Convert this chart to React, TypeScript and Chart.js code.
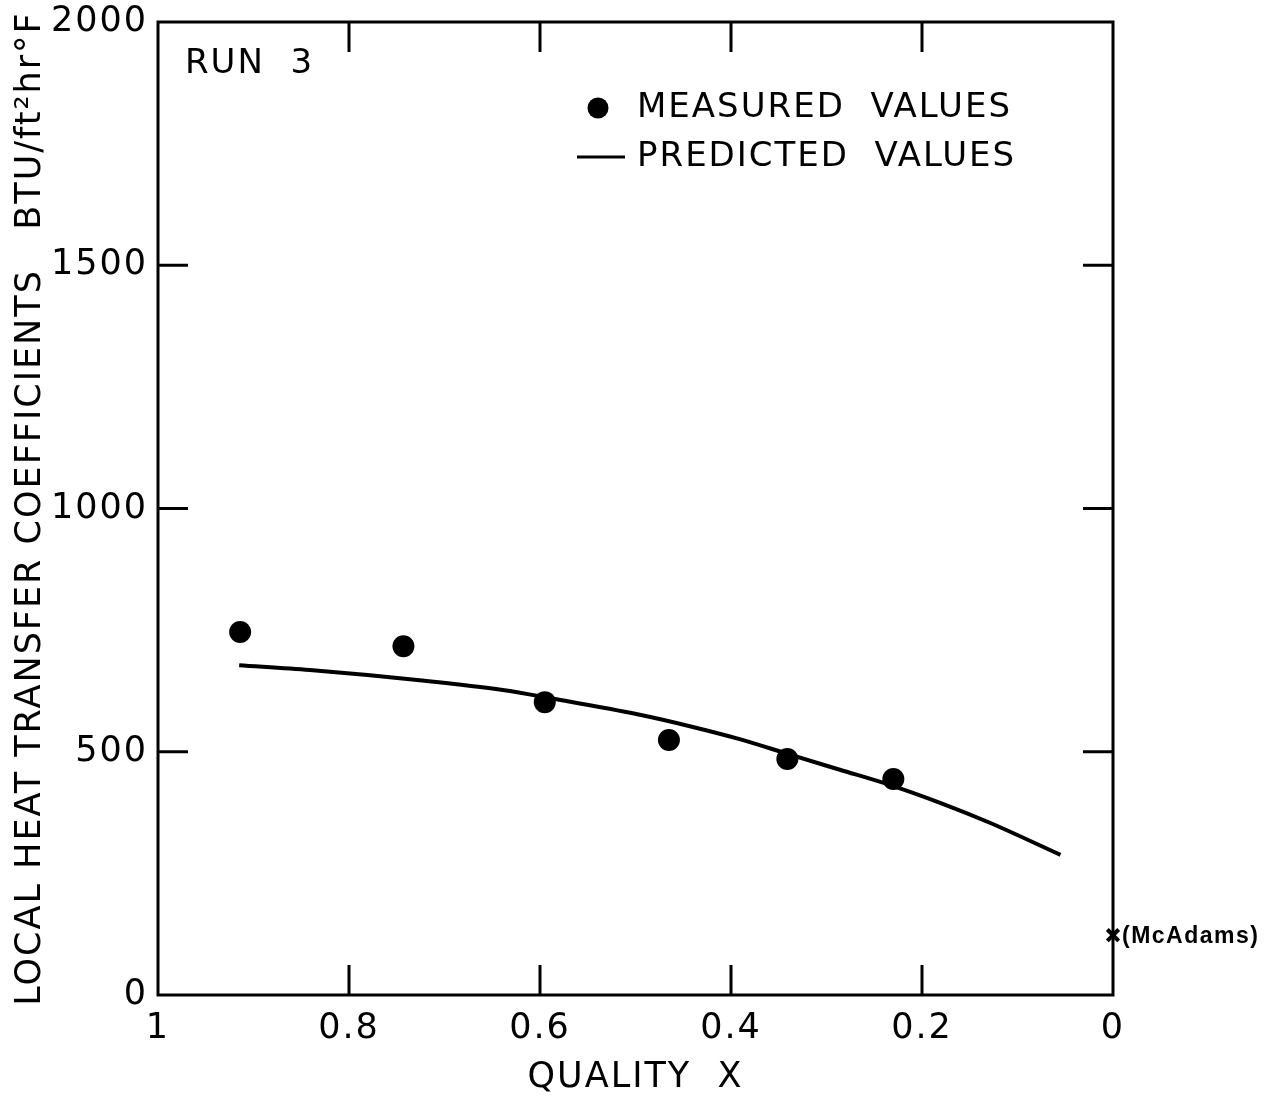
import React, { useEffect, useRef } from 'react';
import { Chart, registerables } from 'chart.js';

Chart.register(...registerables);

// ---- data ----
const measuredX = [0.914, 0.743, 0.595, 0.465, 0.341, 0.23];
const measuredY = [746, 717, 602, 524, 485, 444];
const predictedX = [0.915, 0.841, 0.726, 0.639, 0.586, 0.498, 0.44, 0.391, 0.338, 0.286, 0.234, 0.181, 0.129, 0.055];
const predictedY = [678, 668, 647, 627, 609, 577, 551, 526, 494, 463, 432, 395, 354, 288];
const mcAdamsX = [0];
const mcAdamsY = [123];
const xTickValues = [1, 0.8, 0.6, 0.4, 0.2, 0];
const xTickLabels = ['1', '0.8', '0.6', '0.4', '0.2', '0'];
const yTickValues = [0, 500, 1000, 1500, 2000];
const yTickLabels = ['0', '500', '1000', '1500', '2000'];
const innerXTicks = [0.8, 0.6, 0.4, 0.2];
const innerYTicks = [500, 1000, 1500];
const runLabel = 'RUN  3';
const measuredLabel = 'MEASURED  VALUES';
const predictedLabel = 'PREDICTED  VALUES';
const mcAdamsLabel = '(McAdams)';
const xTitle = 'QUALITY  X';
const yTitle = 'LOCAL HEAT TRANSFER COEFFICIENTS   BTU/ft\u00B2hr\u00B0F';

const FONT = '"DejaVu Sans", sans-serif';

const decorPlugin = {
  id: 'decor',
  beforeDraw(chart: any) {
    const ctx = chart.ctx;
    ctx.save();
    ctx.fillStyle = '#ffffff';
    ctx.fillRect(0, 0, chart.width, chart.height);
    ctx.restore();
    try {
      ctx.letterSpacing = '2px';
    } catch (e) {}
  },
  afterDraw(chart: any) {
    const { ctx, chartArea: a, scales } = chart;
    const xs = scales.x;
    const ys = scales.y;
    ctx.save();
    ctx.strokeStyle = '#000';
    ctx.fillStyle = '#000';
    ctx.lineWidth = 3;
    ctx.lineCap = 'butt';
    ctx.strokeRect(a.left, a.top, a.right - a.left, a.bottom - a.top);
    const L = 30;
    const seg = (x1: number, y1: number, x2: number, y2: number) => {
      ctx.beginPath();
      ctx.moveTo(x1, y1);
      ctx.lineTo(x2, y2);
      ctx.stroke();
    };
    innerXTicks.forEach((v) => {
      const px = xs.getPixelForValue(v);
      seg(px, a.bottom, px, a.bottom - L);
      seg(px, a.top, px, a.top + L);
    });
    innerYTicks.forEach((v) => {
      const py = ys.getPixelForValue(v);
      seg(a.left, py, a.left + L, py);
      seg(a.right, py, a.right - L, py);
    });

    // RUN label
    ctx.font = `34px ${FONT}`;
    ctx.textBaseline = 'middle';
    ctx.textAlign = 'left';
    ctx.fillText(runLabel, 185, 64);

    // legend
    ctx.beginPath();
    ctx.arc(598, 108, 10.5, 0, Math.PI * 2);
    ctx.fill();
    ctx.fillText(measuredLabel, 637, 108);
    ctx.lineWidth = 3;
    seg(577, 157, 625, 157);
    ctx.fillText(predictedLabel, 637, 157);

    // McAdams label
    const mx = xs.getPixelForValue(mcAdamsX[0]);
    const my = ys.getPixelForValue(mcAdamsY[0]);
    ctx.font = `bold 23px "Liberation Sans", Arial, sans-serif`;
    ctx.letterSpacing = '1.5px';
    ctx.fillText(mcAdamsLabel, mx + 9, my + 1);
    ctx.restore();
  },
};

export default function App() {
  const ref = useRef<HTMLCanvasElement | null>(null);

  useEffect(() => {
    if (!ref.current) return;
    const chart = new Chart(ref.current, {
      type: 'scatter',
      data: {
        datasets: [
          {
            label: 'PREDICTED VALUES',
            type: 'line',
            data: predictedX.map((x, i) => ({ x, y: predictedY[i] })),
            borderColor: '#000',
            borderWidth: 4,
            pointRadius: 0,
            cubicInterpolationMode: 'monotone',
            fill: false,
          },
          {
            label: 'MEASURED VALUES',
            data: measuredX.map((x, i) => ({ x, y: measuredY[i] })),
            backgroundColor: '#000',
            borderColor: '#000',
            borderWidth: 0,
            pointRadius: 11,
          },
          {
            label: 'McAdams',
            data: mcAdamsX.map((x, i) => ({ x, y: mcAdamsY[i] })),
            pointStyle: 'crossRot',
            borderColor: '#000',
            borderWidth: 4,
            pointRadius: 8,
            clip: false as any,
          },
        ],
      },
      options: {
        animation: false,
        responsive: false,
        devicePixelRatio: 1,
        events: [],
        layout: { padding: { left: 0, right: 170, top: 22, bottom: 0 } },
        plugins: { legend: { display: false }, tooltip: { enabled: false } },
        scales: {
          x: {
            type: 'linear',
            reverse: true,
            min: 0,
            max: 1,
            grid: { display: false, drawTicks: false },
            border: { display: false },
            afterBuildTicks: (s: any) => {
              s.ticks = xTickValues.map((v) => ({ value: v }));
            },
            afterFit: (s: any) => {
              s.height = 104;
              s.paddingLeft = 0;
              s.paddingRight = 0;
            },
            ticks: {
              autoSkip: false,
              maxRotation: 0,
              color: '#000',
              padding: 13,
              font: { family: FONT, size: 35 },
              callback: (v: any) => {
                const i = xTickValues.indexOf(Number(v));
                return i >= 0 ? xTickLabels[i] : '';
              },
            },
            title: {
              display: true,
              text: xTitle,
              color: '#000',
              font: { family: FONT, size: 35 },
              padding: 0,
            },
          },
          y: {
            type: 'linear',
            min: 0,
            max: 2000,
            grid: { display: false, drawTicks: false },
            border: { display: false },
            afterBuildTicks: (s: any) => {
              s.ticks = yTickValues.map((v) => ({ value: v }));
            },
            afterFit: (s: any) => {
              s.width = 158;
              s.paddingTop = 0;
              s.paddingBottom = 0;
            },
            ticks: {
              autoSkip: false,
              color: '#000',
              padding: 10,
              font: { family: FONT, size: 35 },
              callback: (v: any) => {
                const i = yTickValues.indexOf(Number(v));
                return i >= 0 ? yTickLabels[i] : '';
              },
            },
            title: {
              display: true,
              text: yTitle,
              color: '#000',
              font: { family: FONT, size: 35 },
              padding: { top: 10, bottom: 0 },
            },
          },
        },
      },
      plugins: [decorPlugin],
    });
    return () => chart.destroy();
  }, []);

  return (
    <div style={{ position: 'absolute', left: 0, top: 0, width: 1283, height: 1099, background: '#fff' }}>
      <canvas ref={ref} width={1283} height={1099} style={{ display: 'block' }} />
    </div>
  );
}
